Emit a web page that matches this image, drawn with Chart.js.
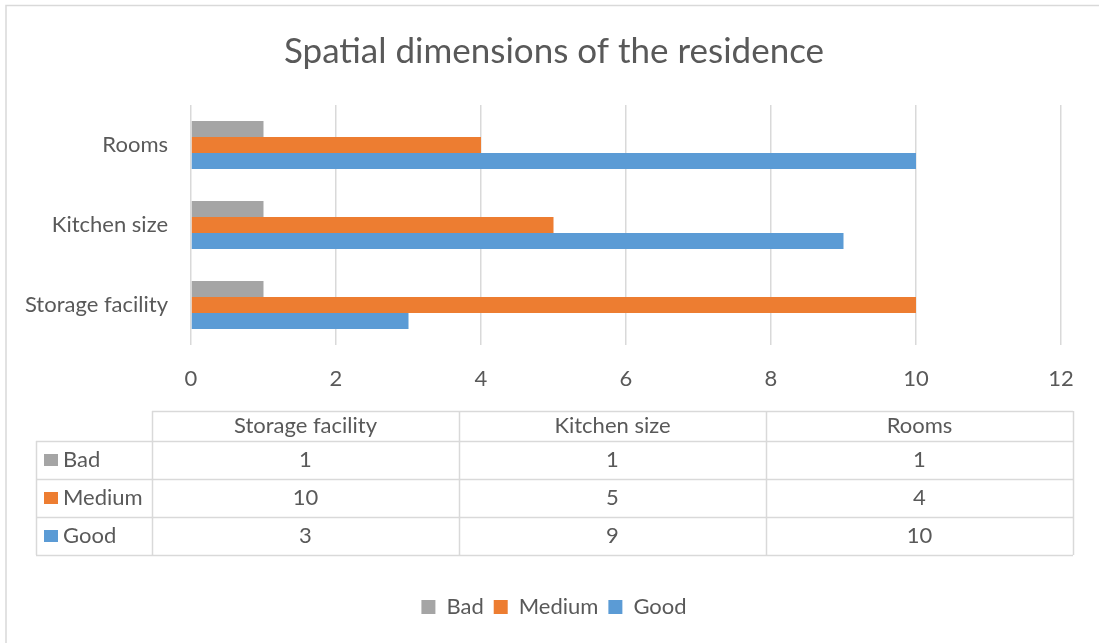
<!DOCTYPE html>
<html>
<head>
<meta charset="utf-8">
<script src="https://cdn.jsdelivr.net/npm/chart.js@4"></script>
<style>
  html, body { margin: 0; padding: 0; background: #fff; }
  #wrap { position: relative; width: 1099px; height: 643px; }
</style>
</head>
<body>
<div id="wrap"><canvas id="c" width="1099" height="643"></canvas></div>
<script>
// categories in table order (left to right); the bar axis shows them bottom-up
const categories = ['Storage facility', 'Kitchen size', 'Rooms'];
const seriesNames = ['Bad', 'Medium', 'Good'];
const badValues = [1, 1, 1];
const mediumValues = [10, 5, 4];
const goodValues = [3, 9, 10];
const xTicks = [0, 2, 4, 6, 8, 10, 12];

const COLORS = ['#a5a5a5', '#ed7d31', '#5b9bd5'];
const TEXT = '#595959';
const LINE = '#d9d9d9';
const FONT = "Lato, 'Open Sans', sans-serif";

const seriesValues = [badValues, mediumValues, goodValues];
const rev = a => a.slice().reverse();

// frame: only top and left edges are visible
const frame = {
  id: 'frame',
  beforeDraw(chart) {
    const c = chart.ctx; c.save();
    c.strokeStyle = LINE; c.lineWidth = 1.5;
    c.beginPath();
    c.moveTo(6, chart.height); c.lineTo(6, 5.5); c.lineTo(chart.width, 5.5);
    c.stroke(); c.restore();
  }
};

// data table under the axis
const dataTable = {
  id: 'dataTable',
  afterDraw(chart) {
    const c = chart.ctx; c.save();
    const left = 36, labelRight = 152, colW = 307;
    const top = 411, headH = 30, rowH = 38;
    const right = labelRight + colW * categories.length;
    const bottom = top + headH + rowH * seriesNames.length;
    c.strokeStyle = LINE; c.lineWidth = 1.5;
    c.beginPath();
    c.moveTo(labelRight, top + 0.5); c.lineTo(right, top + 0.5);
    for (let r = 0; r <= seriesNames.length; r++) {
      const y = top + headH + rowH * r + 0.5;
      c.moveTo(left, y); c.lineTo(right, y);
    }
    c.moveTo(left + 0.5, top + headH); c.lineTo(left + 0.5, bottom);
    for (let k = 0; k <= categories.length; k++) {
      const x = labelRight + colW * k + 0.5;
      c.moveTo(x, top); c.lineTo(x, bottom);
    }
    c.stroke();

    c.fillStyle = TEXT; c.font = `22px ${FONT}`;
    c.textBaseline = 'middle'; c.textAlign = 'center';
    categories.forEach((cat, k) => c.fillText(cat, labelRight + colW * (k + 0.5), top + headH / 2));
    seriesNames.forEach((name, r) => {
      const y = top + headH + rowH * (r + 0.5);
      seriesValues[r].forEach((v, k) => {
        c.textAlign = 'center'; c.fillStyle = TEXT;
        c.fillText(String(v), labelRight + colW * (k + 0.5), y);
      });
      c.fillStyle = COLORS[r];
      c.fillRect(44, y - 6, 14, 12);
      c.fillStyle = TEXT; c.textAlign = 'left';
      c.fillText(name, 63, y);
    });
    c.restore();
  }
};

new Chart(document.getElementById('c'), {
  type: 'bar',
  data: {
    labels: rev(categories),
    datasets: seriesNames.map((name, i) => ({
      label: name,
      data: rev(seriesValues[i]),
      backgroundColor: COLORS[i],
      borderWidth: 0,
      categoryPercentage: 0.6,
      barPercentage: 1
    }))
  },
  options: {
    indexAxis: 'y',
    responsive: false,
    animation: false,
    layout: { padding: { left: 9, right: 0, top: 0, bottom: 15 } },
    scales: {
      x: {
        min: 0, max: 12,
        afterBuildTicks: s => { s.ticks = xTicks.map(v => ({ value: v })); },
        afterFit: s => { s.height = 241; },
        grid: { color: LINE, lineWidth: 1.5, drawTicks: false },
        border: { display: false },
        ticks: { color: TEXT, font: { family: FONT, size: 22 }, padding: 21 }
      },
      y: {
        afterFit: s => { s.width = 182; },
        grid: { display: false, drawTicks: false },
        border: { display: false },
        ticks: { color: TEXT, font: { family: FONT, size: 22 }, padding: 23 }
      },
      // empty right-hand gutter so title and legend stay centred on the whole frame
      gutter: {
        axis: 'y',
        position: 'right',
        afterFit: s => { s.width = 38; },
        grid: { display: false, drawTicks: false },
        border: { display: false },
        ticks: { display: false }
      }
    },
    plugins: {
      title: {
        display: true,
        text: 'Spatial dimensions of the residence',
        color: TEXT,
        font: { family: FONT, size: 35, weight: 'normal' },
        padding: { top: 31, bottom: 32 }
      },
      legend: {
        position: 'bottom',
        labels: { color: TEXT, font: { family: FONT, size: 22 }, boxWidth: 14, boxHeight: 14, padding: 10 }
      },
      tooltip: { enabled: false }
    }
  },
  plugins: [frame, dataTable]
});
</script>
</body>
</html>
